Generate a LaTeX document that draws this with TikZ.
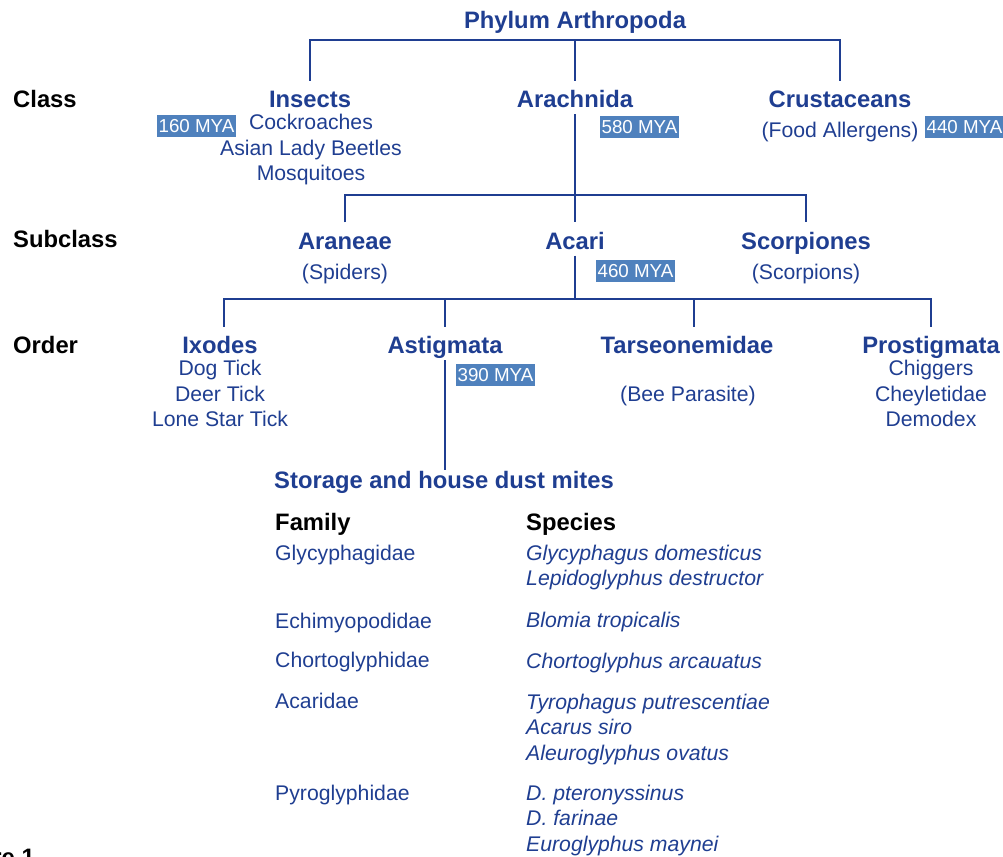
\documentclass[tikz,border=0pt]{standalone}
\usepackage{fontspec}
\setmainfont{Liberation Sans}
\usepackage{xcolor}
\usetikzlibrary{positioning}
\definecolor{ink}{RGB}{31,62,145}
\definecolor{myablue}{RGB}{79,129,189}

\begin{document}
\begin{tikzpicture}[
    x=0.03cm, y=-0.03cm,
    head/.style={font=\fontsize{20.3}{24}\selectfont\bfseries, text=ink, text height=0.75cm, text depth=0.15cm, inner xsep=0pt, inner ysep=0.045cm, anchor=base},
    rank/.style={font=\fontsize{20.3}{24}\selectfont\bfseries, inner sep=0pt, anchor=base west},
    item/.style={font=\fontsize{18.1}{21.6}\selectfont, text=ink, align=center, inner sep=0pt, anchor=base},
    family/.style={font=\fontsize{18.1}{21.6}\selectfont, text=ink, inner sep=0pt, anchor=base west},
    species/.style={font=\fontsize{18.1}{21.6}\selectfont\itshape, text=ink, align=left, inner sep=0pt, anchor=base west},
    mya/.style={fill=myablue, text=white, font=\fontsize{16}{18}\selectfont, inner xsep=0.04cm, inner ysep=0pt, text height=0.4cm, text depth=0cm, minimum height=0.66cm},
    link/.style={draw=ink, line width=1.2pt}
]
\useasboundingbox (0,0) rectangle (1003,856);
\clip (0,0) rectangle (1003,856);

\node[head] (phylum) at (575,28) {Phylum Arthropoda};
\node[rank] (class) at (13,107) {Class};
\node[rank] (subclass) at (13,247) {Subclass};
\node[rank] (order) at (13,353) {Order};

\node[head] (insects) at (310,107.5) {Insects};
\node[head] (arachnida) at (575,107.5) {Arachnida};
\node[head] (crust) at (840,107.5) {Crustaceans};
\node[item] (insectlist) at (311,180.5) {Cockroaches\\Asian Lady Beetles\\Mosquitoes};
\node[item] (allergens) at (840,137.5) {(Food Allergens)};
\node[mya] (mya160) at (196.5,126) {160 MYA};
\node[mya] (mya580) at (639.5,126.5) {580 MYA};
\node[mya] (mya440) at (964.5,126.5) {440 MYA};

\node[head] (araneae) at (345,249) {Araneae};
\node[head] (acari) at (575,249) {Acari};
\node[head] (scorp) at (806,249) {Scorpiones};
\node[item] (spiders) at (345,279.5) {(Spiders)};
\node[item] (scorpions) at (806,279.5) {(Scorpions)};
\node[mya] (mya460) at (635.5,270.5) {460 MYA};

\node[head] (ixodes) at (220,353.5) {Ixodes};
\node[head] (astig) at (445,353.5) {Astigmata};
\node[head] (tars) at (687,353.5) {Tarseonemidae};
\node[head] (prostig) at (931,353.5) {Prostigmata};
\node[item] (ticks) at (220,426.5) {Dog Tick\\Deer Tick\\Lone Star Tick};
\node[item] (bee) at (688,401.5) {(Bee Parasite)};
\node[item] (prostiglist) at (931,426.5) {Chiggers\\Cheyletidae\\Demodex};
\node[mya] (mya390) at (495.5,374.5) {390 MYA};

\node[head, anchor=base west, text height=0.5cm] (dust) at (274,488) {Storage and house dust mites};
\node[rank] (famhead) at (275,530) {Family};
\node[rank] (sphead) at (526,530) {Species};

\node[family] (glyc) at (275,560.5) {Glycyphagidae};
\node[family] (echi) at (275,628.5) {Echimyopodidae};
\node[family] (chor) at (275,667.5) {Chortoglyphidae};
\node[family] (acar) at (275,708.5) {Acaridae};
\node[family] (pyro) at (275,800.5) {Pyroglyphidae};
\node[species] (glycsp) at (526,585.5) {Glycyphagus domesticus\\Lepidoglyphus destructor};
\node[species] (echisp) at (526,627.5) {Blomia tropicalis};
\node[species] (chorsp) at (526,668.5) {Chortoglyphus arcauatus};
\node[species] (acarsp) at (526,760) {Tyrophagus putrescentiae\\Acarus siro\\Aleuroglyphus ovatus};
\node[species] (pyrosp) at (526,851) {D. pteronyssinus\\D. farinae\\Euroglyphus maynei};

\node[rank, anchor=base east] (figlabel) at (35,865) {Figure 1};

\coordinate (bar1) at (575,40);
\coordinate (bar2) at (575,195);
\coordinate (bar3) at (575,299);
\draw[link] (insects.north) |- (bar1) -| (crust.north);
\draw[link] (bar1) -- (arachnida.north);
\draw[link] (arachnida.south) -- (acari.north);
\draw[link] (araneae.north) |- (bar2) -| (scorp.north);
\draw[link] (acari.south) -- (bar3);
\draw[link] ([xshift=0.12cm]ixodes.north) |- (bar3) -| (prostig.north);
\draw[link] (astig.north) -- (astig.north |- bar3);
\draw[link] ([xshift=0.21cm]tars.north) -- ([xshift=0.21cm]tars.north |- bar3);
\draw[link] (astig.south) -- (astig.south |- dust.north);
\end{tikzpicture}
\end{document}
